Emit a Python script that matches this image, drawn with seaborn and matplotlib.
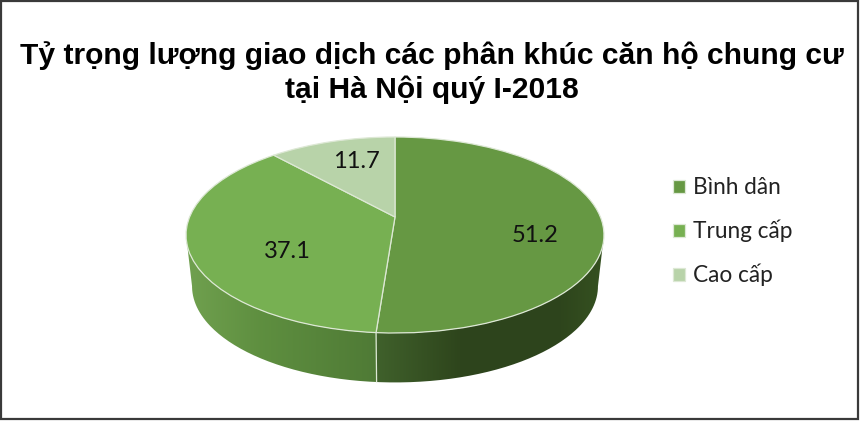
import numpy as np
import matplotlib
matplotlib.use("Agg")
import matplotlib.pyplot as plt
import seaborn as sns
from matplotlib.transforms import Transform
from matplotlib.path import Path
from matplotlib.patches import PathPatch, Rectangle

title = "Tỷ trọng lượng giao dịch các phân khúc căn hộ chung cư\ntại Hà Nội quý I-2018"
segments = ["Bình dân", "Trung cấp", "Cao cấp"]
shares = [51.2, 37.1, 11.7]
colors = ["#669843", "#77B052", "#B8D3A9"]

sns.set_theme(style="white")
plt.rcParams["font.family"] = ["Lato", "DejaVu Sans"]

K = 0.1837


class Perspective(Transform):
    """Projects the unit-circle pie to the tilted disc, in pixel coordinates."""
    input_dims = output_dims = 2
    is_affine = False

    def __init__(self, cx, cy, a, b):
        super().__init__()
        self.p = (cx, cy, a, b)

    def transform_non_affine(self, values):
        cx, cy, a, b = self.p
        u, v = np.asarray(values).T
        d = 1 + K * v
        return np.column_stack([cx + a * u / d, cy - b * v / d])


top = Perspective(395, 217, 205.4, 94.7)
base = Perspective(395, 268.5, 199.5, 93.0)

fig = plt.figure(figsize=(8.6, 4.21), dpi=100)
ax = fig.add_axes([0, 0, 1, 1])
wedges, _, autotexts = ax.pie(
    shares, colors=colors, startangle=90, counterclock=False,
    autopct=lambda p: f"{p:.1f}",
    wedgeprops=dict(edgecolor="#DDE8D5", linewidth=0.9),
    textprops=dict(fontsize=17, color="#111111"),
)
ax.set_aspect("auto")
ax.set_xlim(0, 860)
ax.set_ylim(421, 0)
ax.axis("off")
for w in wedges:
    w.set_transform(top + ax.transData)
    w.set_zorder(3)
for t, pos in zip(autotexts, [(535, 235), (287, 251), (356, 162)]):
    t.set_position(pos)
    t.set_ha("center")
    t.set_va("center")
    t.set_zorder(5)

# side wall: silhouette between the front edges of top and base discs
ang = np.linspace(np.arcsin(K) + np.pi, 2 * np.pi - np.arcsin(K), 200)
ring = np.column_stack([np.cos(ang), np.sin(ang)])
top_edge = top.transform_non_affine(ring)
base_edge = base.transform_non_affine(ring)
outline = np.vstack([top_edge, base_edge[::-1], top_edge[:1]])

# wedge boundary on the front wall, from the data
theta = np.deg2rad(wedges[0].theta1)
unit = np.array([[np.cos(theta), np.sin(theta)]])
p_top = top.transform_non_affine(unit)[0]
p_base = base.transform_non_affine(unit)[0]

xs = np.arange(860)
stops_left = ([186, 260, 376], [(0.44, 0.63, 0.31), (0.37, 0.56, 0.25), (0.31, 0.48, 0.21)])
stops_right = ([376, 460, 560, 604], [(0.25, 0.38, 0.17), (0.18, 0.27, 0.11), (0.18, 0.27, 0.11), (0.21, 0.32, 0.13)])
grad = np.zeros((1, 860, 3))
for c in range(3):
    left = np.interp(xs, stops_left[0], [s[c] for s in stops_left[1]])
    right = np.interp(xs, stops_right[0], [s[c] for s in stops_right[1]])
    grad[0, :, c] = np.where(xs < p_top[0], left, right)
img = ax.imshow(grad, extent=(0, 860, 421, 0), aspect="auto", zorder=1)
clip = PathPatch(Path(outline), transform=ax.transData, facecolor="none", edgecolor="none")
ax.add_patch(clip)
img.set_clip_path(clip)
ax.set_xlim(0, 860)
ax.set_ylim(421, 0)
ax.plot([p_top[0], p_base[0]], [p_top[1], p_base[1]], color="#DDE8D5", lw=0.9, zorder=2)

ax.text(431.5, 72.5, title, ha="center", va="center", fontsize=21.6, fontweight="bold",
        family=["Liberation Sans", "DejaVu Sans"], color="black", linespacing=1.25, zorder=6)

leg = ax.legend(wedges, segments, loc="center left", bbox_to_anchor=(0.7826, 0.449),
                frameon=False, fontsize=16.3, handlelength=0.53, handleheight=0.53,
                handletextpad=0.35, labelspacing=0.95, borderaxespad=0, borderpad=0,
                labelcolor="#222222")

ax.add_patch(Rectangle((1, 1), 857, 418, fill=False, edgecolor="#3A3A3A", lw=1.6, zorder=7))
fig.savefig("out.png", dpi=100)
